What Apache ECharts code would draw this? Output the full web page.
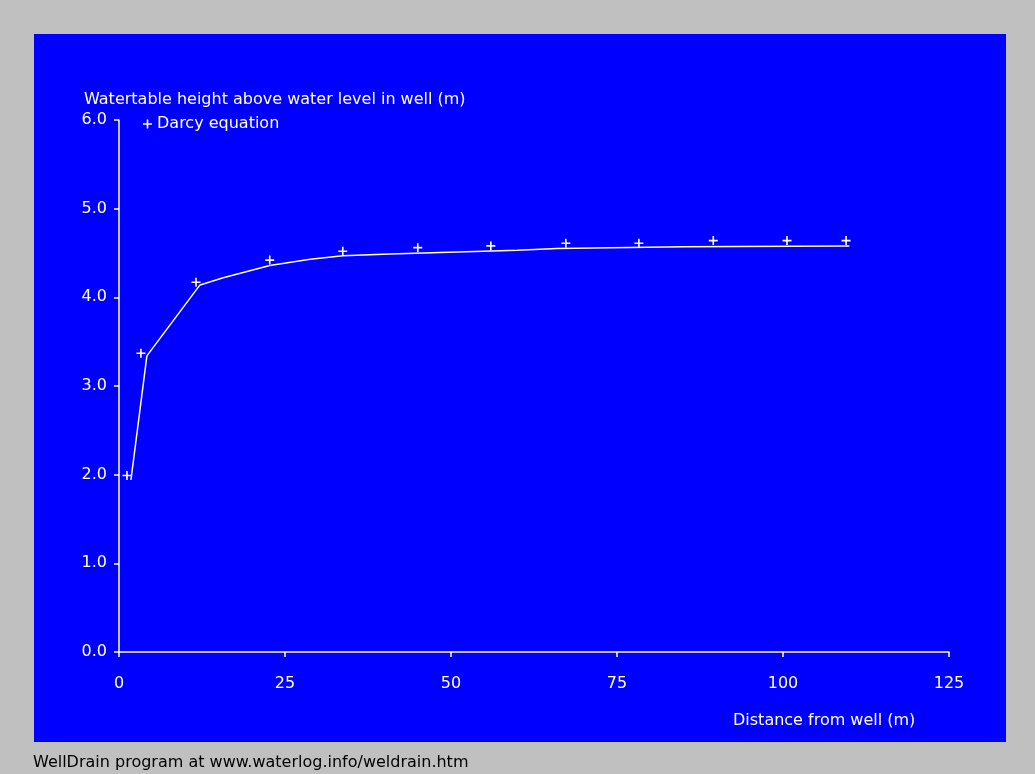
<!DOCTYPE html>
<html>
<head>
<meta charset="utf-8">
<script src="https://cdn.jsdelivr.net/npm/echarts@6/dist/echarts.min.js"></script>
<style>
html,body{margin:0;padding:0;background:#c0c0c0;}
#chart{width:1035px;height:774px;}
</style>
</head>
<body>
<div id="chart"></div>
<script>
// Darcy equation points [distance (m), height (m)]
const darcyX = [1.2, 3.3, 11.6, 22.7, 33.7, 45.0, 56.0, 67.3, 78.3, 89.5, 100.6, 109.5];
const darcyY = [1.99, 3.37, 4.17, 4.42, 4.52, 4.56, 4.58, 4.61, 4.61, 4.64, 4.64, 4.64];
// Computed watertable line
const lineX = [1.8, 4.2, 12.2, 15.7, 22.7, 28.8, 33.7, 40.8, 51.0, 60.0, 66.0, 85.0, 110.0];
const lineY = [1.94, 3.34, 4.14, 4.22, 4.36, 4.43, 4.47, 4.49, 4.51, 4.53, 4.55, 4.57, 4.58];
const xTicks = [0, 25, 50, 75, 100, 125];
const yTicks = [0, 1, 2, 3, 4, 5, 6];

const yTitle = 'Watertable height above water level in well (m)';
const xTitle = 'Distance from well (m)';
const footer = 'WellDrain program at www.waterlog.info/weldrain.htm';
const legendName = 'Darcy equation';

const plusPath = 'path://M4.1,0H5.9V4.1H10V5.9H5.9V10H4.1V5.9H0V4.1H4.1Z';
const font = 'DejaVu Sans, Verdana, sans-serif';

const chart = echarts.init(document.getElementById('chart'));
chart.setOption({
  backgroundColor: '#c0c0c0',
  animation: false,
  graphic: [{
    type: 'rect', z: -10, silent: true,
    shape: {x: 34, y: 34, width: 972, height: 708},
    style: {fill: '#0000ff'}
  }],
  title: [
    {text: yTitle, left: 84, top: 91, padding: 0,
     textStyle: {color: '#ffffff', fontSize: 16, fontWeight: 'normal', fontFamily: font, lineHeight: 18}},
    {text: xTitle, left: 733, top: 712, padding: 0,
     textStyle: {color: '#ffffff', fontSize: 16, fontWeight: 'normal', fontFamily: font, lineHeight: 18}},
    {text: footer, left: 33, top: 754, padding: 0,
     textStyle: {color: '#000000', fontSize: 16, fontWeight: 'normal', fontFamily: font, lineHeight: 18}}
  ],
  legend: {
    data: [legendName], left: 143, top: 116, padding: 0,
    icon: plusPath, itemWidth: 9, itemHeight: 9, itemGap: 10,
    textStyle: {color: '#ffffff', fontSize: 16, fontFamily: font},
    itemStyle: {color: '#ffffff'}
  },
  grid: {left: 119, right: 86, top: 120, bottom: 122, containLabel: false},
  xAxis: {
    type: 'value', min: 0, max: 125, interval: 25,
    axisLine: {lineStyle: {color: '#ffffff', width: 1.5}},
    axisTick: {show: true, length: 5, lineStyle: {color: '#ffffff', width: 1.5}},
    axisLabel: {color: '#ffffff', fontSize: 16, fontFamily: font, margin: 24,
      formatter: v => xTicks.includes(v) ? String(v) : ''},
    splitLine: {show: false}
  },
  yAxis: {
    type: 'value', min: 0, max: 6, interval: 1,
    axisLine: {show: true, lineStyle: {color: '#ffffff', width: 1.5}},
    axisTick: {show: true, length: 5, lineStyle: {color: '#ffffff', width: 1.5}},
    axisLabel: {color: '#ffffff', fontSize: 16, fontFamily: font, margin: 12,
      formatter: v => yTicks.includes(v) ? v.toFixed(1) : ''},
    splitLine: {show: false}
  },
  series: [
    {
      name: 'Line', type: 'line', showSymbol: false, symbol: 'none',
      data: lineX.map((x, i) => [x, lineY[i]]),
      lineStyle: {color: '#ffffff', width: 1.5}, z: 2
    },
    {
      name: legendName, type: 'scatter', symbol: plusPath, symbolSize: 9,
      data: darcyX.map((x, i) => [x, darcyY[i]]),
      itemStyle: {color: '#ffffff', opacity: 1}, z: 3
    }
  ]
});
</script>
</body>
</html>
